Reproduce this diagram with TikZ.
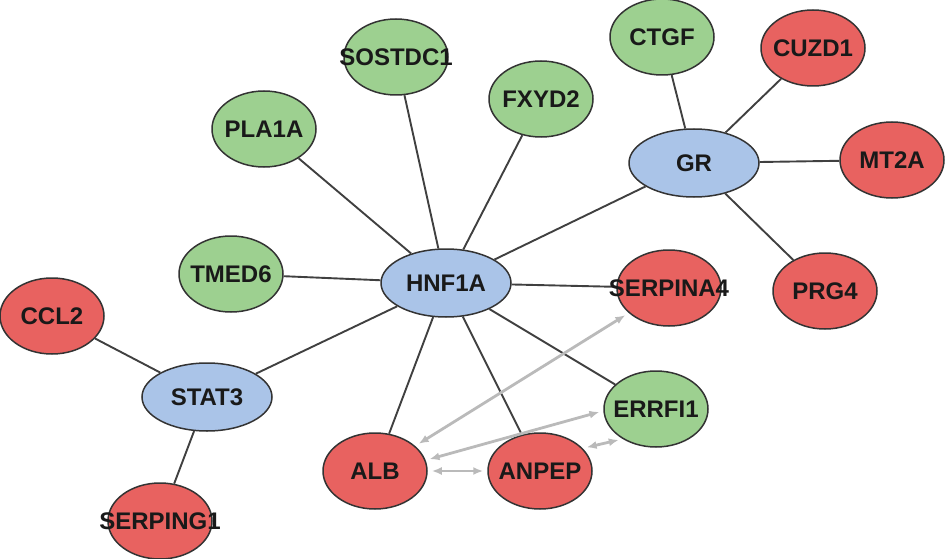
\documentclass[tikz,border=0pt]{standalone}
\usepackage{fontspec}
\setmainfont{Liberation Sans}
\usetikzlibrary{shapes.geometric,arrows.meta,backgrounds}
\definecolor{genegreen}{RGB}{157,208,144}
\definecolor{genered}{RGB}{232,98,96}
\definecolor{geneblue}{RGB}{170,196,232}
\begin{document}
\begin{tikzpicture}[x=1pt, y=-1pt,
        gene/.style={ellipse, draw=black!80, line width=1.5pt, minimum width=104pt, minimum height=76pt, inner sep=0pt,
            label={[genetext]center:#1}},
        genetext/.style={font=\fontsize{24}{27}\selectfont\bfseries, text=black!90, inner sep=0pt},
        greengene/.style={gene=#1, fill=genegreen},
        redgene/.style={gene=#1, fill=genered},
        hubgene/.style={gene=#1, fill=geneblue, minimum width=130pt, minimum height=68pt},
        link/.style={draw=black!75, line width=1.9pt},
        assoc/.style={draw=black!27, line width=2.8pt, {Latex[length=10pt,width=8pt]}-{Latex[length=10pt,width=8pt]}, shorten <=4pt, shorten >=4pt}
    ]
    \useasboundingbox (0,0) rectangle (945,559);

    % hubs
    \node[hubgene=HNF1A] (hnf1a) at (446,283) {};
    \node[hubgene=GR] (gr) at (694,163) {};
    \node[hubgene=STAT3] (stat3) at (207,397) {};

    % targets of HNF1A
    \node[greengene=SOSTDC1] (sostdc1) at (396,57) {};
    \node[greengene=PLA1A] (pla1a) at (264,129) {};
    \node[greengene=FXYD2] (fxyd2) at (541,99) {};
    \node[greengene=TMED6] (tmed6) at (231,274) {};
    \node[redgene=SERPINA4] (serpina4) at (669,288) {};
    \node[greengene=ERRFI1] (errfi1) at (656,409) {};
    \node[redgene=ALB] (alb) at (375,471) {};
    \node[redgene=ANPEP] (anpep) at (540,471) {};

    % targets of GR
    \node[greengene=CTGF] (ctgf) at (662,37) {};
    \node[redgene=CUZD1] (cuzd1) at (813,48) {};
    \node[redgene=MT2A] (mt2a) at (892,160) {};
    \node[redgene=PRG4] (prg4) at (825,291) {};

    % targets of STAT3
    \node[redgene=CCL2] (ccl2) at (52,316) {};
    \node[redgene=SERPING1] (serping1) at (160,521) {};

    \begin{scope}[on background layer]
        \foreach \t in {sostdc1,pla1a,fxyd2,tmed6,serpina4,errfi1,alb,anpep,gr,stat3}
            \draw[link] (hnf1a) -- (\t);
        \foreach \t in {ctgf,cuzd1,mt2a,prg4}
            \draw[link] (gr) -- (\t);
        \foreach \t in {ccl2,serping1}
            \draw[link] (stat3) -- (\t);
    \end{scope}

    % co-expression
    \draw[assoc] (serpina4) -- (alb);
    \draw[assoc] (errfi1.182) -- (alb.12);
    \draw[assoc] (alb) -- (anpep);
    \draw[assoc] (anpep.28) -- (errfi1.222);

\end{tikzpicture}
\end{document}
